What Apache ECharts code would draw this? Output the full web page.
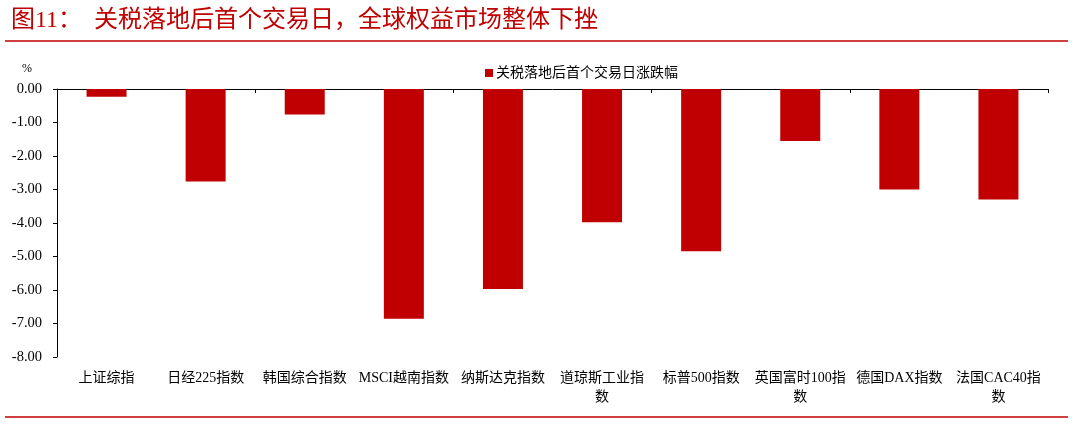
<!DOCTYPE html>
<html><head><meta charset="utf-8">
<script src="https://cdn.jsdelivr.net/npm/echarts@6/dist/echarts.min.js"></script>
<style>html,body{margin:0;padding:0;background:#fff}#c{width:1080px;height:429px}</style>
</head><body><div id="c"></div>
<script>
const categories = ['上证综指','日经225指数','韩国综合指数','MSCI越南指数','纳斯达克指数','道琼斯工业指数','标普500指数','英国富时100指数','德国DAX指数','法国CAC40指数'];
const changes = [-0.23,-2.76,-0.76,-6.86,-5.97,-3.98,-4.84,-1.55,-3.00,-3.30];
const wrapLabels = ['道琼斯工业指数','英国富时100指数','法国CAC40指数'];
const seriesName = '关税落地后首个交易日涨跌幅';
const titleText = '图11：  关税落地后首个交易日，全球权益市场整体下挫';
const red = '#c00000';
const serif = '"Liberation Serif","Noto Sans CJK SC",serif';
const chart = echarts.init(document.getElementById('c'));
chart.setOption({
  backgroundColor:'#fff',
  animation:false,
  title:{text:titleText,left:6,top:4,textStyle:{color:red,fontSize:24,fontWeight:'normal',fontFamily:serif}},
  graphic:[
    {type:'line',shape:{x1:5,y1:41,x2:1068,y2:41},style:{stroke:red,lineWidth:1.5}},
    {type:'line',shape:{x1:5,y1:417,x2:1068,y2:417},style:{stroke:red,lineWidth:1.5}},
    {type:'text',left:22,top:63,style:{text:'%',fontSize:12,fontFamily:serif,fill:'#000'}}
  ],
  legend:{left:480,top:61,itemWidth:8,itemHeight:8,itemGap:4,icon:'rect',
    textStyle:{fontSize:14,fontFamily:serif,color:'#000',padding:[0,0,0,-2]},data:[seriesName]},
  grid:{left:57,right:32,top:89,bottom:72},
  xAxis:[
    {type:'category',data:categories,position:'bottom',
     axisLine:{onZero:true,lineStyle:{color:'#000',width:1}},
     axisTick:{show:true,alignWithLabel:false,length:4,lineStyle:{color:'#000'}},
     axisLabel:{show:false}},
    {type:'category',data:categories,position:'bottom',
     axisLine:{show:false},axisTick:{show:false},
     axisLabel:{interval:0,margin:12,fontSize:14,fontFamily:serif,color:'#000',lineHeight:19,
       formatter:v=>wrapLabels.includes(v)?v.slice(0,-1)+'\n'+v.slice(-1):v}}
  ],
  yAxis:{type:'value',min:-8,max:0,interval:1,
    axisLine:{show:true,lineStyle:{color:'#000'}},
    axisTick:{show:true,length:4,lineStyle:{color:'#000'}},
    splitLine:{show:false},
    axisLabel:{margin:15,fontSize:14.5,fontFamily:serif,color:'#000',formatter:v=>v.toFixed(2)}},
  series:[{name:seriesName,type:'bar',data:changes,barWidth:40,itemStyle:{color:red},xAxisIndex:0}]
});
</script></body></html>
